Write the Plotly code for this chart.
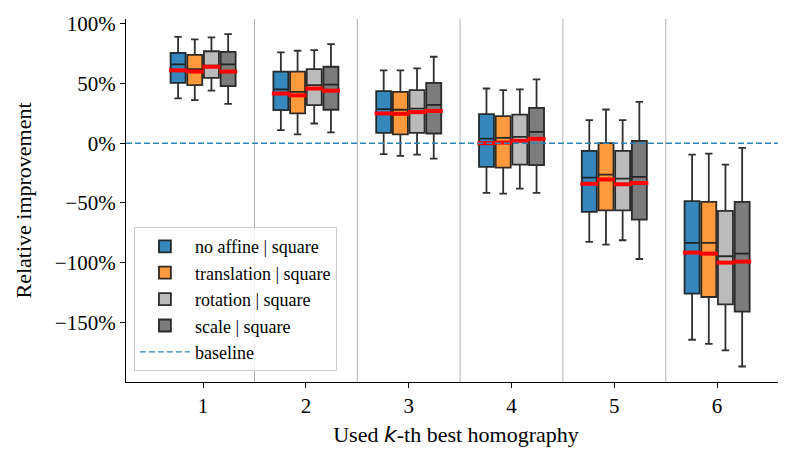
import plotly.graph_objects as go

# ---- data (percent) ----
ks = [1, 2, 3, 4, 5, 6]
series_names = ["no affine | square", "translation | square", "rotation | square", "scale | square"]

# per series: lists over k = 1..6
whisk_hi = [
    [89, 76, 61, 45.8, 19.3, -9.5],
    [87, 77.4, 61, 44.4, 28.2, -8.7],
    [88.6, 78, 62.6, 45, 19.3, -17.9],
    [91.4, 83, 72.4, 53.4, 34.6, -3.9],
]
q3 = [
    [75.7, 60, 43.6, 24.3, -6.4, -48.6],
    [74, 60, 43, 22.6, 0, -49.2],
    [77, 62, 44.4, 24, -6.4, -56.7],
    [76.5, 64, 50.5, 29.6, 1.9, -49.2],
]
medians = [
    [66, 45, 28.5, 3.9, -28.8, -83.5],
    [62, 43, 28, 4.5, -26.3, -83.5],
    [65, 48.6, 29, 5.3, -29.6, -94.7],
    [66, 49, 32, 9.5, -28.2, -92.5],
]
means = [
    [61, 41.6, 24.9, 0, -34, -91.6],
    [60, 40, 24.6, 0.5, -30.4, -92.5],
    [64, 45.8, 26, 2, -34.4, -100],
    [60, 44, 27, 3.6, -33.3, -99.2],
]
q1 = [
    [50.5, 27.7, 8.7, -19.8, -57.6, -126],
    [48.6, 24.9, 7.3, -20.4, -56.2, -128.8],
    [54.7, 31.8, 8.7, -17.9, -56.2, -135],
    [47.8, 28, 8.1, -18.4, -64, -141],
]
whisk_lo = [
    [37.5, 11, -9.2, -41.6, -82.7, -164.6],
    [36, 7.3, -10.6, -42.2, -85, -168],
    [44, 16.5, -9.5, -38, -81.3, -173.5],
    [33, 9, -12.9, -41.6, -97, -187],
]
ytick_vals = [100, 50, 0, -50, -100, -150]
ytick_text = ["100%", "50%", "0%", "\u221250%", "\u2212100%", "\u2212150%"]

# ---- style ----
fills = ["#3587bc", "#ff993e", "#bbbbbb", "#7c7c7c"]
offsets = [-0.2435, -0.081, 0.081, 0.2435]
box_w = 0.146
mean_half = 0.088
x_range = [0.25, 6.67]
font = "Liberation Serif"

fig = go.Figure()

for i, name in enumerate(series_names):
    xs = [k + offsets[i] for k in ks]
    fig.add_trace(go.Box(
        x=xs, q1=q1[i], median=medians[i], q3=q3[i],
        lowerfence=whisk_lo[i], upperfence=whisk_hi[i],
        name=name, width=box_w, whiskerwidth=0.5,
        fillcolor=fills[i],
        line=dict(color="rgba(25,25,25,0.9)", width=1.8),
        boxpoints=False, hoverinfo="skip",
    ))

# red mean bars
for i in range(len(series_names)):
    mx, my = [], []
    for j, k in enumerate(ks):
        c = k + offsets[i]
        mx += [c - mean_half, c + mean_half, None]
        my += [means[i][j], means[i][j], None]
    fig.add_trace(go.Scatter(x=mx, y=my, mode="lines",
                             line=dict(color="#ff0000", width=4),
                             showlegend=False, hoverinfo="skip"))

# baseline
fig.add_trace(go.Scatter(x=x_range, y=[0, 0], mode="lines", name="baseline",
                         line=dict(color="#2b83ba", width=1.4, dash="6px,3px"),
                         hoverinfo="skip"))

# group separators
for k in ks[:-1]:
    fig.add_shape(type="line", x0=k + 0.5, x1=k + 0.5, y0=0, y1=1,
                  xref="x", yref="paper",
                  line=dict(color="rgba(128,128,128,0.6)", width=1), layer="below")

# y-axis title as annotation for precise placement
fig.add_annotation(text="Relative improvement", textangle=-90,
                   xref="paper", yref="paper", x=0, y=0.5,
                   xanchor="center", yanchor="middle", xshift=-103,
                   showarrow=False, font=dict(family=font, size=22, color="black"))

fig.update_layout(
    width=778, height=442,
    margin=dict(l=118, r=0, t=11, b=68),
    paper_bgcolor="white", plot_bgcolor="white",
    font=dict(family=font, size=21, color="black"),
    showlegend=True,
    legend=dict(x=0.012, y=0.03, xanchor="left", yanchor="bottom",
                bgcolor="rgba(255,255,255,0.8)", bordercolor="#cccccc", borderwidth=1,
                font=dict(family=font, size=18), tracegroupgap=0, itemwidth=50),
    xaxis=dict(range=x_range, tickvals=ks, ticktext=[str(k) for k in ks],
               showgrid=False, zeroline=False, showline=True, linecolor="black", linewidth=1.2,
               ticks="outside", ticklen=5, tickcolor="black",
               title=dict(text="Used <span style=\"font-family:DejaVu Sans\"><i>k</i></span>-th best homography",
                          font=dict(size=22), standoff=9)),
    yaxis=dict(range=[-200, 104], tickvals=ytick_vals, ticktext=ytick_text,
               showgrid=False, zeroline=False, showline=True, linecolor="black", linewidth=1.2,
               ticks="outside", ticklen=5, tickcolor="black"),
)

fig.write_html("out.html")
